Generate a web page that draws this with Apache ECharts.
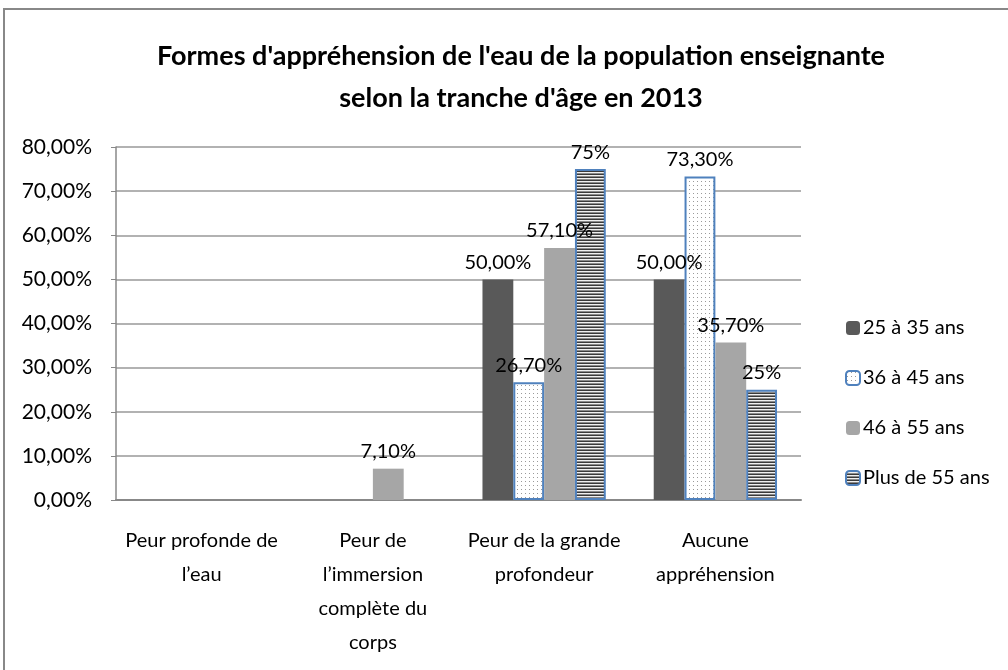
<!DOCTYPE html>
<html>
<head>
<meta charset="utf-8">
<script src="https://cdn.jsdelivr.net/npm/echarts@6/dist/echarts.min.js"></script>
<style>
  html, body { margin: 0; padding: 0; background: #fff; }
  #main { width: 1008px; height: 670px; }
</style>
</head>
<body>
<div id="main"></div>
<script>
// données du graphique
var categories = ["Peur profonde de\nl\u2019eau", "Peur de\nl\u2019immersion\ncompl\u00e8te du\ncorps", "Peur de la grande\nprofondeur", "Aucune\nappr\u00e9hension"];
var seriesNames = ['25 \u00e0 35 ans', '36 \u00e0 45 ans', '46 \u00e0 55 ans', 'Plus de 55 ans'];
var age25_35 = [null, null, 0.50, 0.50];
var age36_45 = [null, null, 0.267, 0.733];
var age46_55 = [null, 0.071, 0.571, 0.357];
var age55plus = [null, null, 0.75, 0.25];

var FONT = 'Lato';

// motifs (points / rayures)
function dotPattern() {
    var c = document.createElement('canvas');
    c.width = 4; c.height = 4;
    var ctx = c.getContext('2d');
    ctx.fillStyle = '#ffffff';
    ctx.fillRect(0, 0, 4, 4);
    ctx.fillStyle = '#9a9a9a';
    ctx.fillRect(1, 1, 1, 1);
    return c;
}
function stripePattern() {
    var c = document.createElement('canvas');
    c.width = 4; c.height = 3;
    var ctx = c.getContext('2d');
    ctx.fillStyle = '#3a3a3a';
    ctx.fillRect(0, 0, 4, 1);
    ctx.fillStyle = '#f0f0f0';
    ctx.fillRect(0, 1, 4, 1);
    ctx.fillStyle = '#8a8a8a';
    ctx.fillRect(0, 2, 4, 1);
    return c;
}

function pct(decimals) {
    return function (p) {
        if (p.value == null) return '';
        return (p.value * 100).toFixed(decimals).replace('.', ',') + '%';
    };
}

var myChart = echarts.init(document.getElementById('main'));

var labelStyle = {
    show: true,
    position: 'top',
    distance: 7,
    fontFamily: FONT,
    fontSize: 20,
    color: '#000'
};

var option = {
    animation: false,
    title: {
        text: "Formes d'appr\u00e9hension de l'eau de la population enseignante\nselon la tranche d'\u00e2ge en 2013",
        left: 516,
        textAlign: 'center',
        top: 30,
        textStyle: {
            fontFamily: FONT,
            fontSize: 27,
            fontWeight: 'bold',
            color: '#000',
            lineHeight: 42
        }
    },
    graphic: [{
        type: 'rect',
        shape: { x: 4, y: 9, width: 1030, height: 700 },
        style: { fill: 'none', stroke: '#888', lineWidth: 2 },
        silent: true
    }],
    legend: {
        orient: 'vertical',
        left: 840,
        top: 313,
        itemWidth: 14,
        itemHeight: 14,
        itemGap: 30,
        data: seriesNames,
        textStyle: { fontFamily: FONT, fontSize: 20, color: '#000', padding: [0, 0, 0, -2] }
    },
    grid: {
        left: 116,
        right: 207,
        top: 147,
        bottom: 170
    },
    xAxis: {
        type: 'category',
        data: categories,
        axisLine: { lineStyle: { color: '#888', width: 2 } },
        axisTick: { show: false },
        axisLabel: {
            fontFamily: FONT,
            fontSize: 20,
            color: '#000',
            lineHeight: 34,
            margin: 24,
            interval: 0
        }
    },
    yAxis: {
        type: 'value',
        min: 0,
        max: 0.8,
        interval: 0.1,
        axisLine: { show: true, lineStyle: { color: '#888', width: 1.5 } },
        axisTick: { show: true, inside: false, length: 5, lineStyle: { color: '#888' } },
        splitLine: { lineStyle: { color: '#999', width: 1.5 } },
        axisLabel: {
            fontFamily: FONT,
            fontSize: 21,
            color: '#000',
            margin: 24,
            formatter: function (v) {
                return (v * 100).toFixed(2).replace('.', ',') + '%';
            }
        }
    },
    series: [{
        name: seriesNames[0],
        type: 'bar',
        data: age25_35,
        barGap: 0,
        barCategoryGap: '28%',
        itemStyle: { color: '#595959' },
        label: Object.assign({ formatter: pct(2) }, labelStyle)
    }, {
        name: seriesNames[1],
        type: 'bar',
        data: age36_45,
        itemStyle: {
            color: { image: dotPattern(), repeat: 'repeat' },
            borderColor: '#4f81bd',
            borderWidth: 2
        },
        label: Object.assign({ formatter: pct(2) }, labelStyle)
    }, {
        name: seriesNames[2],
        type: 'bar',
        data: age46_55,
        itemStyle: { color: '#a6a6a6' },
        label: Object.assign({ formatter: pct(2) }, labelStyle)
    }, {
        name: seriesNames[3],
        type: 'bar',
        data: age55plus,
        itemStyle: {
            color: { image: stripePattern(), repeat: 'repeat' },
            borderColor: '#4f81bd',
            borderWidth: 2
        },
        label: Object.assign({ formatter: pct(0) }, labelStyle)
    }]
};

myChart.setOption(option);
</script>
</body>
</html>
